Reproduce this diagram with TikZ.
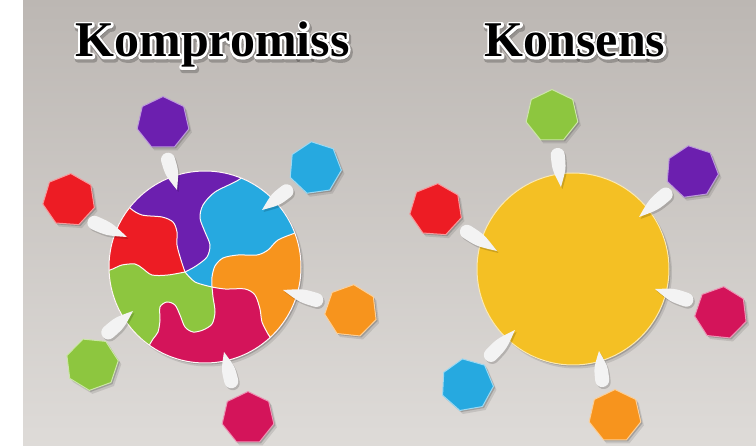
\documentclass[tikz,border=0pt]{standalone}
\usepackage{fontspec}
\newfontfamily\ttlfont{Liberation Serif}
\usetikzlibrary{shapes.geometric,shadows,calc}
\definecolor{bgtop}{RGB}{188,183,179}
\definecolor{bgbot}{RGB}{222,219,216}
\definecolor{cpurple}{RGB}{108,31,175}
\definecolor{cblue}{RGB}{38,169,224}
\definecolor{cred}{RGB}{237,28,36}
\definecolor{corange}{RGB}{247,148,29}
\definecolor{cgreen}{RGB}{141,198,63}
\definecolor{cmagenta}{RGB}{212,20,90}
\definecolor{cyellow}{RGB}{244,192,36}
\definecolor{ptrfill}{RGB}{243,243,243}
\tikzset{
  softshadow/.style={drop shadow={shadow xshift=1.5pt,shadow yshift=-1.5pt,opacity=.18,fill=black},
                     drop shadow={shadow xshift=3pt,shadow yshift=-3.5pt,opacity=.10,fill=black}},
  hept/.style={regular polygon, regular polygon sides=7, minimum size=53pt, inner sep=0pt, line width=1pt, softshadow},
  bigdisc/.style={circle, minimum size=192pt, inner sep=0pt, softshadow},
  seam/.style={draw=white!88!pink, line width=1pt},
  ttl/.style={font=\ttlfont\bfseries\fontsize{50}{60}\selectfont, inner sep=0pt, anchor=base},
}
% teardrop: #2 = round end (outer extremity), #3 = tip
\newcommand\tdrop[3][]{%
  \fill[#1] let \p1=(#2), \p2=(#3), \n1={atan2(\y2-\y1,\x2-\x1)}, \p3=($(\p1)+(\n1:7pt)$) in
   (\p2) .. controls ($(\p3)+(\n1+90:7pt)+0.45*(\p2)-0.45*(\p3)$) .. ($(\p3)+(\n1+90:7pt)$)
   .. controls ($(\p3)+(\n1+90:7pt)+(\n1+180:3.87pt)$) and ($(\p3)+(\n1+180:7pt)+(\n1+90:3.87pt)$) .. ($(\p3)+(\n1+180:7pt)$)
   .. controls ($(\p3)+(\n1+180:7pt)+(\n1-90:3.87pt)$) and ($(\p3)+(\n1-90:7pt)+(\n1+180:3.87pt)$) .. ($(\p3)+(\n1-90:7pt)$)
   .. controls ($(\p3)+(\n1-90:7pt)+0.45*(\p2)-0.45*(\p3)$) .. (\p2) -- cycle;}
\newcommand\pointer[2]{%
  \tdrop[black,opacity=.16,transform canvas={shift={(1.5pt,-2pt)}}]{#1}{#2}%
  \tdrop[ptrfill]{#1}{#2}}
\newcommand\strk[2]{\special{pdf:literal direct 2 Tr #1 w 1 j 1 J #2 RG}}
\newcommand\strkoff{\special{pdf:literal direct 0 Tr}}
\begin{document}
\begin{tikzpicture}[x=1pt,y=-1pt]
\useasboundingbox (0,0) rectangle (756,446);
\fill[white] (0,0) rectangle (23,446);
\shade[top color=bgtop, bottom color=bgbot] (23,0) rectangle (756,446);

% titles
\coordinate (t1) at (212.5,57);
\coordinate (t2) at (575,57);
\node[ttl, text=black, opacity=.22] at ([shift={(1.5pt,-2.5pt)}]t1) {\strk{6}{0 0 0}Kompromiss\strkoff};
\node[ttl, text=white] at (t1) {\strk{4.5}{1 1 1}Kompromiss\strkoff};
\node[ttl] (title1) at (t1) {Kompromiss};
\node[ttl, text=black, opacity=.22] at ([shift={(1.5pt,-2.5pt)}]t2) {\strk{6}{0 0 0}Konsens\strkoff};
\node[ttl, text=white] at (t2) {\strk{4.5}{1 1 1}Konsens\strkoff};
\node[ttl] (title2) at (t2) {Konsens};

% ---------- left: compromise ----------
\node[bigdisc, fill=cmagenta] (lc) at (205,267) {};
\begin{scope}
\clip (lc.center) circle[radius=96pt];
% purple
\fill[cpurple] plot[smooth] coordinates {(120,195) (130,208) (142,215) (162,217) (173,222) (177,232) (177,245) (181,260) (185,272)}
  -- plot[smooth] coordinates {(185,272) (196,266) (207,257) (210,245) (205,232) (200,218) (203,205) (215,192) (240,179) (252,165)}
  -- (252,140) -- (100,140) -- (100,195) -- cycle;
% red
\fill[cred] plot[smooth] coordinates {(120,195) (130,208) (142,215) (162,217) (173,222) (177,232) (177,245) (181,260) (185,272)}
  -- plot[smooth] coordinates {(185,272) (168,275) (152,275) (142,268) (135,264) (122,265) (110,270) (98,272)}
  -- (80,272) -- (80,195) -- cycle;
% green
\fill[cgreen] plot[smooth] coordinates {(98,272) (110,270) (122,265) (135,264) (142,268) (152,275) (168,275) (185,272)}
  -- plot[smooth] coordinates {(185,272) (195,282) (212,287)}
  -- plot[smooth] coordinates {(212,287) (213,297) (215,312) (212,324) (203,330) (193,332) (185,327) (180,315) (175,305) (167,302) (160,307) (160,320) (158,332) (153,339) (150,344) (143,356)}
  -- (80,380) -- (80,272) -- cycle;
% blue
\fill[cblue] plot[smooth] coordinates {(252,165) (240,179) (215,192) (203,205) (200,218) (205,232) (210,245) (207,257) (196,266) (185,272)}
  -- plot[smooth] coordinates {(185,272) (195,282) (212,287)}
  -- plot[smooth] coordinates {(212,287) (212,277) (215,266) (223,258) (238,255) (257,255) (268,250) (278,240) (295,233) (308,228)}
  -- (330,228) -- (330,140) -- (252,140) -- cycle;
% orange
\fill[corange] plot[smooth] coordinates {(308,228) (295,233) (278,240) (268,250) (257,255) (238,255) (223,258) (215,266) (212,277) (212,287)}
  -- plot[smooth] coordinates {(212,287) (225,289) (245,289) (255,295) (260,309) (262,322) (268,334) (270,337) (278,348)}
  -- (330,360) -- (330,228) -- cycle;
% seams
\draw[seam] plot[smooth] coordinates {(120,195) (130,208) (142,215) (162,217) (173,222) (177,232) (177,245) (181,260) (185,272)};
\draw[seam] plot[smooth] coordinates {(252,165) (240,179) (215,192) (203,205) (200,218) (205,232) (210,245) (207,257) (196,266) (185,272)};
\draw[seam] plot[smooth] coordinates {(98,272) (110,270) (122,265) (135,264) (142,268) (152,275) (168,275) (185,272)};
\draw[seam] plot[smooth] coordinates {(185,272) (195,282) (212,287)};
\draw[seam] plot[smooth] coordinates {(308,228) (295,233) (278,240) (268,250) (257,255) (238,255) (223,258) (215,266) (212,277) (212,287)};
\draw[seam] plot[smooth] coordinates {(212,287) (213,297) (215,312) (212,324) (203,330) (193,332) (185,327) (180,315) (175,305) (167,302) (160,307) (160,320) (158,332) (153,339) (150,344) (143,356)};
\draw[seam] plot[smooth] coordinates {(212,287) (225,289) (245,289) (255,295) (260,309) (262,322) (268,334) (270,337) (278,348)};
\end{scope}
\draw[white!88!pink, line width=1pt] (lc.center) circle[radius=96pt];

\node[hept, fill=cpurple, draw=cpurple!45!white] (lh1) at (163,123) {};
\node[hept, fill=cblue, draw=cblue!45!white, shape border rotate=8] (lh2) at (315,168) {};
\node[hept, fill=cred, draw=cred!45!white, shape border rotate=-4] (lh3) at (69,200) {};
\node[hept, fill=corange, draw=corange!45!white, shape border rotate=-6] (lh4) at (351,311) {};
\node[hept, fill=cgreen, draw=cgreen!45!white, shape border rotate=20] (lh5) at (92,364) {};
\node[hept, fill=cmagenta, draw=cmagenta!45!white] (lh6) at (248,418) {};

\coordinate (lp1a) at (166,153); \coordinate (lp1b) at (177,190);
\coordinate (lp2a) at (292,187); \coordinate (lp2b) at (262,210);
\coordinate (lp3a) at (88,220);  \coordinate (lp3b) at (127,237);
\coordinate (lp4a) at (323,302); \coordinate (lp4b) at (283,290);
\coordinate (lp5a) at (103,337); \coordinate (lp5b) at (133,311);
\coordinate (lp6a) at (233,388); \coordinate (lp6b) at (224,352);
\pointer{lp1a}{lp1b}
\pointer{lp2a}{lp2b}
\pointer{lp3a}{lp3b}
\pointer{lp4a}{lp4b}
\pointer{lp5a}{lp5b}
\pointer{lp6a}{lp6b}

% ---------- right: consensus ----------
\node[bigdisc, fill=cyellow, draw=cyellow!35!white, line width=1pt] (rc) at (573,269) {};

\node[hept, fill=cgreen, draw=cgreen!45!white] (rh1) at (552,116) {};
\node[hept, fill=cpurple, draw=cpurple!45!white, shape border rotate=8] (rh2) at (692,172) {};
\node[hept, fill=cred, draw=cred!45!white, shape border rotate=-4] (rh3) at (436,210) {};
\node[hept, fill=cmagenta, draw=cmagenta!45!white, shape border rotate=-6] (rh4) at (721,313) {};
\node[hept, fill=cblue, draw=cblue!45!white, shape border rotate=10] (rh5) at (467,385) {};
\node[hept, fill=corange, draw=corange!45!white] (rh6) at (615,416) {};

\coordinate (rp1a) at (557,148); \coordinate (rp1b) at (561,187);
\coordinate (rp2a) at (671,190); \coordinate (rp2b) at (639,217);
\coordinate (rp3a) at (461,228); \coordinate (rp3b) at (497,251);
\coordinate (rp4a) at (693,302); \coordinate (rp4b) at (655,289);
\coordinate (rp5a) at (486,360); \coordinate (rp5b) at (515,330);
\coordinate (rp6a) at (603,387); \coordinate (rp6b) at (599,351);
\pointer{rp1a}{rp1b}
\pointer{rp2a}{rp2b}
\pointer{rp3a}{rp3b}
\pointer{rp4a}{rp4b}
\pointer{rp5a}{rp5b}
\pointer{rp6a}{rp6b}
\end{tikzpicture}
\end{document}
